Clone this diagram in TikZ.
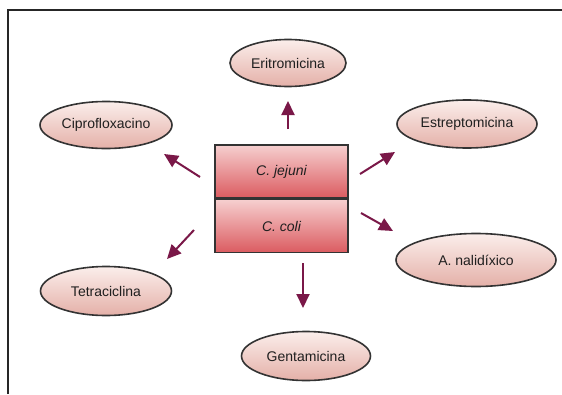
\documentclass[tikz,border=0pt]{standalone}
\usepackage{fontspec}
\setmainfont{Liberation Sans}
\usetikzlibrary{shapes.geometric,arrows.meta}
\definecolor{framegray}{HTML}{262626}
\definecolor{ovaltop}{HTML}{FBEEEB}
\definecolor{ovalbot}{HTML}{E4B0A8}
\definecolor{boxtop}{HTML}{F6CFCF}
\definecolor{boxbot}{HTML}{DB5B60}
\definecolor{edgegray}{HTML}{333333}
\definecolor{arrowred}{HTML}{7A1848}
\tikzset{
  x=1pt, y=-1pt,
  drug/.style={ellipse, draw=edgegray, line width=1.6pt,
    top color=ovaltop, bottom color=ovalbot,
    inner sep=0pt, font=\fontsize{14}{16}\selectfont, text=black!88},
  species/.style={rectangle, draw=edgegray, line width=1.6pt,
    top color=boxtop, bottom color=boxbot,
    minimum width=133pt, minimum height=53pt, inner sep=0pt,
    font=\fontsize{14}{16}\selectfont\itshape, text=black!88},
  link/.style={draw=arrowred, line width=2pt,
    -{Triangle[length=14pt,width=13pt]}}
}
\begin{document}
\begin{tikzpicture}
\useasboundingbox (0,0) rectangle (562,394);
\fill[white] (0,0) rectangle (562,394);
% frame
\draw[framegray, line width=2.6pt] (8,394) -- (8,10) -- (562,10);

% drug ovals
\node[drug, minimum width=116pt, minimum height=47pt] (eri) at (288,63) {Eritromicina};
\node[drug, minimum width=132pt, minimum height=47pt] (cip) at (106,125) {Ciprofloxacino};
\node[drug, minimum width=140pt, minimum height=48pt] (est) at (467,124) {Estreptomicina};
\node[drug, minimum width=160pt, minimum height=53pt] (nal) at (476,260) {A. nalidíxico};
\node[drug, minimum width=131pt, minimum height=49pt] (tet) at (106,291) {Tetraciclina};
\node[drug, minimum width=129pt, minimum height=49pt] (gen) at (306,356) {Gentamicina};

% species boxes
\node[species] (jej) at (281.5,171.5) {C. jejuni};
\node[species, anchor=north] (col) at (jej.south) {C. coli};

% arrow anchor points
\coordinate (eriS) at (288,129);
\coordinate (eriE) at (288,101);
\coordinate (cipS) at (200,177);
\coordinate (cipE) at (164,154);
\coordinate (estS) at (360,174);
\coordinate (estE) at (395,152);
\coordinate (nalS) at (361,213);
\coordinate (nalE) at (393,231);
\coordinate (tetS) at (194,230);
\coordinate (tetE) at (167,259);
\coordinate (genS) at (303,263);
\coordinate (genE) at (303,308);

\draw[link] (eriS) -- (eriE);
\draw[link] (cipS) -- (cipE);
\draw[link] (estS) -- (estE);
\draw[link] (nalS) -- (nalE);
\draw[link] (tetS) -- (tetE);
\draw[link] (genS) -- (genE);
\end{tikzpicture}
\end{document}
